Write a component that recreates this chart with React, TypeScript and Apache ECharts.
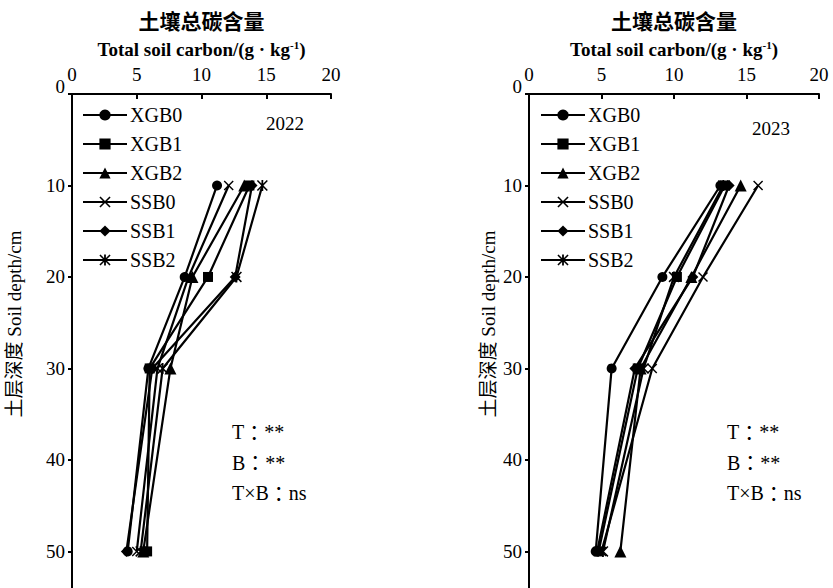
import React, { useEffect, useRef } from "react";
import * as echarts from "echarts";

const depths = [10, 20, 30, 50];
const seriesNames = ["XGB0", "XGB1", "XGB2", "SSB0", "SSB1", "SSB2"];

// 2022 total soil carbon (g/kg) at depths 10, 20, 30, 50 cm
const xgb0_2022 = [11.2, 8.7, 5.9, 4.3];
const xgb1_2022 = [13.7, 10.5, 6.0, 5.8];
const xgb2_2022 = [13.3, 9.3, 7.6, 5.5];
const ssb0_2022 = [12.1, 9.0, 6.6, 5.0];
const ssb1_2022 = [13.9, 12.6, 6.2, 4.2];
const ssb2_2022 = [14.7, 12.7, 7.0, 5.3];

// 2023
const xgb0_2023 = [13.2, 9.2, 5.7, 4.6];
const xgb1_2023 = [13.5, 10.2, 7.5, 4.8];
const xgb2_2023 = [14.6, 11.2, 7.7, 6.3];
const ssb0_2023 = [15.8, 12.0, 8.5, 5.0];
const ssb1_2023 = [13.8, 11.3, 7.3, 4.7];
const ssb2_2023 = [13.4, 10.0, 7.9, 5.1];

const xTicks = [0, 5, 10, 15, 20];
const annotationKeys = ["T", "B", "T×B"];
const annotationVals = ["**", "**", "ns"];
const years = ["2022", "2023"];

const X_PATH =
  "path://M0,1 L1,0 L5,4 L9,0 L10,1 L6,5 L10,9 L9,10 L5,6 L1,10 L0,9 L4,5 Z";
const STAR_PATH =
  "path://M0,1 L1,0 L5,4 L9,0 L10,1 L6,5 L10,9 L9,10 L5,6 L1,10 L0,9 L4,5 Z M4.2,0 L5.8,0 L5.8,10 L4.2,10 Z";
const symbols = ["circle", "rect", "triangle", X_PATH, "diamond", STAR_PATH];
const symbolSizes = [10, 10, 12, 10, 11, 11];

const FONT = "'Liberation Serif', 'Times New Roman', 'Noto Sans CJK SC', serif";

export default function App() {
  const ref = useRef<HTMLDivElement>(null);
  useEffect(() => {
    if (!ref.current) return;
    const chart = echarts.init(ref.current, null, { renderer: "svg" });
    const data2022 = [xgb0_2022, xgb1_2022, xgb2_2022, ssb0_2022, ssb1_2022, ssb2_2022];
    const data2023 = [xgb0_2023, xgb1_2023, xgb2_2023, ssb0_2023, ssb1_2023, ssb2_2023];

    const grids = [
      { left: 72, top: 94, width: 259, height: 495 },
      { left: 529, top: 94, width: 290, height: 495 },
    ];
    const xAxis = grids.map((_, i) => ({
      type: "value",
      gridIndex: i,
      position: "top",
      min: xTicks[0],
      max: xTicks[xTicks.length - 1],
      interval: 5,
      axisLine: { show: true, lineStyle: { color: "#000", width: 2 } },
      axisTick: { show: true, inside: true, length: 5, lineStyle: { color: "#000", width: 2 } },
      axisLabel: { color: "#000", fontSize: 19, fontFamily: FONT, margin: 10 },
      splitLine: { show: false },
    }));
    const yAxis = grids.map((_, i) => ({
      type: "value",
      gridIndex: i,
      inverse: true,
      min: 0,
      max: 54,
      interval: 10,
      axisLine: { show: true, lineStyle: { color: "#000", width: 2 } },
      axisTick: { show: true, inside: false, length: 4, lineStyle: { color: "#000", width: 2 } },
      axisLabel: {
        color: "#000",
        fontSize: 19,
        fontFamily: FONT,
        margin: 7,
        showMaxLabel: false,
        formatter: (v: number) => (v === 0 ? "{z|0}" : String(v)),
        rich: { z: { fontSize: 19, fontFamily: FONT, color: "#000", padding: [0, 0, 16, 0] } },
      },
      splitLine: { show: false },
    }));

    const series: any[] = [];
    [data2022, data2023].forEach((set, gi) => {
      set.forEach((vals, si) => {
        series.push({
          name: seriesNames[si],
          type: "line",
          xAxisIndex: gi,
          yAxisIndex: gi,
          data: vals.map((v, k) => [v, depths[k]]),
          symbol: symbols[si],
          symbolSize: symbolSizes[si],
          showAllSymbol: true,
          lineStyle: { color: "#000", width: 2.2 },
          itemStyle: { color: "#000", borderWidth: 0 },
          z: 3,
        });
      });
    });

    const legends = [77, 535].map((left) => ({
      orient: "vertical",
      left,
      top: 100,
      itemWidth: 44,
      itemHeight: 14,
      itemGap: 9,
      data: seriesNames,
      selectedMode: false,
      textStyle: { color: "#000", fontSize: 20, fontFamily: FONT, lineHeight: 20, padding: [0, 0, 0, -2] },
    }));

    const centers = [201.5, 674];
    const nameX = [14, 488];
    const graphic: any[] = [];
    centers.forEach((cx, i) => {
      graphic.push({
        type: "text",
        x: cx,
        y: 20,
        style: {
          text: "土壤总碳含量",
          fontSize: 21,
          fontWeight: "bold",
          fontFamily: "'Noto Sans CJK SC', serif",
          fill: "#000",
          align: "center",
          verticalAlign: "middle",
        },
      });
      graphic.push({
        type: "text",
        x: cx,
        y: 49,
        style: {
          text: "Total soil carbon/(g · kg{sup|-1})",
          fontSize: 19,
          fontWeight: "bold",
          fontFamily: FONT,
          fill: "#000",
          align: "center",
          verticalAlign: "middle",
          rich: {
            sup: { fontSize: 11, fontWeight: "bold", fontFamily: FONT, verticalAlign: "top", padding: [0, 0, 8, 0] },
          },
        },
      });
      graphic.push({
        type: "text",
        x: nameX[i],
        y: 324,
        rotation: Math.PI / 2,
        style: {
          text: "土层深度 Soil depth/cm",
          fontSize: 19,
          fontFamily: FONT,
          fill: "#000",
          align: "center",
          verticalAlign: "middle",
        },
      });
    });
    graphic.push({
      type: "text",
      x: 285,
      y: 123,
      style: { text: years[0], fontSize: 19, fontFamily: FONT, fill: "#000", align: "center", verticalAlign: "middle" },
    });
    graphic.push({
      type: "text",
      x: 771,
      y: 128,
      style: { text: years[1], fontSize: 19, fontFamily: FONT, fill: "#000", align: "center", verticalAlign: "middle" },
    });
    [232, 727].forEach((ax) => {
      annotationKeys.forEach((k, idx) => {
        graphic.push({
          type: "text",
          x: ax,
          y: 432 + idx * 30.5,
          style: {
            text: k + "{c|：}" + annotationVals[idx],
            fontSize: 20,
            fontFamily: FONT,
            fill: "#000",
            align: "left",
            verticalAlign: "middle",
            rich: { c: { fontSize: 20, fontFamily: "'Noto Sans CJK TC', sans-serif", color: "#000" } },
          },
        });
      });
    });

    chart.setOption({
      animation: false,
      backgroundColor: "#fff",
      grid: grids,
      xAxis,
      yAxis,
      legend: legends,
      series,
      graphic,
    });
    return () => chart.dispose();
  }, []);
  return (
    <div
      ref={ref}
      style={{ position: "fixed", left: 0, top: 0, width: 833, height: 588, background: "#fff" }}
    />
  );
}
